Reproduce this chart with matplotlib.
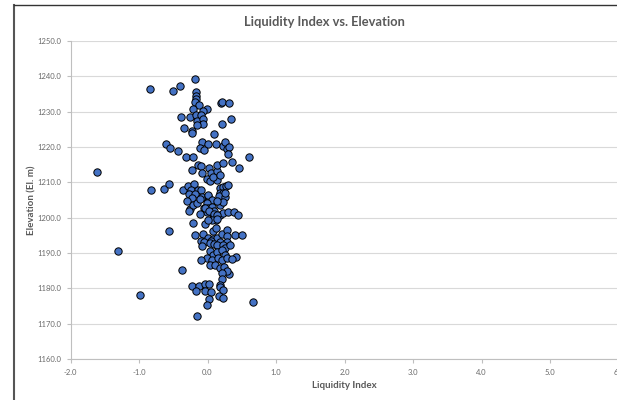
import matplotlib
matplotlib.use("Agg")
import matplotlib.pyplot as plt
from matplotlib.lines import Line2D

liquidity_index = [
    -0.18, -0.84, -0.50, -0.40, -0.17, -0.17, -0.17, -0.18, -0.13, 0.19, 0.21, 0.32, -0.21, -0.01, -0.07,
    -0.39, -0.25, -0.17, -0.10, -0.16, -0.06, -0.07, -0.16, -0.34, -0.22, -0.22, 0.21, 0.35, 0.09,
    -0.61, -0.55, -0.43, -0.32, -0.21, -0.08, 0.00, -0.11, -0.05, 0.12, 0.23, 0.25, 0.28, 0.31, 0.30, 0.60,
    -0.14, -0.10, -0.23, -0.08, 0.02, 0.05, 0.14, 0.14, 0.23, 0.36, 0.46, -1.62,
    -0.01, 0.04, 0.14, 0.08, 0.18,
    -0.83, -0.63, -0.56, -0.36, -0.29, -0.20, -0.24, -0.14, -0.09, -0.27, -0.18, 0.18, 0.22, 0.27, 0.30,
    0.18, 0.22, 0.17, 0.25, -0.23, -0.08, 0.00,
    -0.30, -0.26, -0.21, -0.16, -0.11, 0.01, 0.06, -0.01, -0.05, 0.01, 0.06, -0.01, 0.08, 0.11, 0.06,
    0.13, 0.18, 0.23, 0.30, 0.38, 0.45, 0.18, 0.23, 0.26, 0.14, 0.10,
    -0.27, -0.11, -0.04, 0.02, 0.10, 0.14,
    -0.21, -0.04, 0.06, 0.14, 0.00,
    -0.56, 0.08, -0.18, -0.06, 0.01, 0.08, 0.14, 0.21, 0.29, 0.29, 0.40, 0.50, 0.12,
    -0.10, -0.05, 0.05, 0.18, 0.28,
    -1.30,
    -0.08, 0.03, 0.10, 0.14, 0.22, 0.25, 0.33,
    0.04, 0.08, 0.14, 0.21, 0.25,
    -0.01, 0.06, 0.16, 0.21, 0.28, -0.09, 0.41, 0.36,
    0.04, 0.11, 0.18, 0.24, 0.31, 0.28, -0.37, 0.21, 0.21,
    -0.23, -0.13, -0.04, 0.02, 0.18,
    -0.99, -0.17, -0.04, 0.05, 0.18, 0.23,
    0.02, -0.01, 0.17, 0.22, 0.67, -0.16,
]
elevation = [
    1239.2, 1236.3, 1235.8, 1237.2, 1235.7, 1234.5, 1233.6, 1232.6, 1231.8, 1232.5, 1232.8, 1232.4, 1230.8, 1230.7, 1230.1,
    1228.6, 1228.5, 1229.0, 1229.1, 1227.5, 1227.9, 1226.6, 1226.2, 1225.5, 1224.6, 1224.0, 1226.5, 1228.0, 1223.6,
    1220.9, 1219.6, 1218.9, 1217.2, 1217.2, 1221.5, 1220.8, 1219.7, 1219.1, 1220.9, 1220.2, 1221.3, 1219.4, 1220.1, 1218.1, 1217.2,
    1214.8, 1214.6, 1213.4, 1212.6, 1214.0, 1212.6, 1213.1, 1214.8, 1215.5, 1215.7, 1214.1, 1213.0,
    1211.0, 1210.4, 1210.6, 1211.5, 1212.0,
    1207.9, 1208.0, 1209.5, 1207.8, 1208.9, 1209.4, 1207.9, 1207.9, 1207.9, 1206.8, 1206.8, 1208.5, 1208.7, 1209.0, 1209.2,
    1207.1, 1207.1, 1206.0, 1205.8, 1205.7, 1205.9, 1206.0,
    1204.7, 1202.4, 1203.6, 1204.1, 1205.2, 1206.4, 1205.0, 1204.1, 1202.6, 1202.6, 1203.1, 1201.7, 1201.4, 1200.5, 1199.6,
    1199.3, 1200.8, 1201.2, 1201.7, 1201.7, 1200.8, 1203.6, 1204.5, 1206.9, 1204.8, 1202.0,
    1202.0, 1200.9, 1202.7, 1201.8, 1201.0, 1200.8,
    1198.5, 1198.2, 1199.2, 1199.7, 1199.4,
    1196.1, 1196.1, 1195.2, 1195.4, 1194.2, 1194.0, 1194.2, 1195.4, 1196.5, 1194.9, 1195.2, 1195.2, 1197.0,
    1193.5, 1193.0, 1193.3, 1193.0, 1193.2,
    1190.6,
    1192.0, 1192.8, 1192.5, 1192.2, 1192.2, 1191.4, 1192.2,
    1190.5, 1189.5, 1190.3, 1190.8, 1189.5,
    1188.6, 1187.9, 1188.6, 1187.9, 1188.6, 1187.9, 1188.8, 1188.2,
    1186.5, 1186.7, 1185.7, 1186.0, 1184.1, 1184.8, 1185.3, 1184.4, 1182.6,
    1180.7, 1180.6, 1181.3, 1181.3, 1180.9,
    1178.0, 1179.2, 1179.2, 1179.0, 1180.5, 1179.5,
    1176.9, 1175.2, 1177.9, 1177.3, 1176.0, 1172.2,
]

x_ticks = [-2.0, -1.0, 0.0, 1.0, 2.0, 3.0, 4.0, 5.0, 6.0]
y_ticks = [1160.0, 1170.0, 1180.0, 1190.0, 1200.0, 1210.0, 1220.0, 1230.0, 1240.0, 1250.0]

W, H = 617, 400
fig = plt.figure(figsize=(W / 100, H / 100), dpi=100)
fig.patch.set_facecolor("white")

left, right, bottom, top = 70.5, 618.5, 359, 41
ax = fig.add_axes([left / W, 1 - bottom / H, (right - left) / W, (bottom - top) / H])

txt = "#595959"
ax.scatter(liquidity_index, elevation, s=28, facecolor="#4472C4",
           edgecolor="black", linewidth=0.7, zorder=3, clip_on=False)

ax.set_xlim(-2, 6)
ax.set_ylim(1160, 1250)
ax.set_xticks(x_ticks)
ax.set_yticks(y_ticks)
ax.set_xticklabels(["%.1f" % v for v in x_ticks])
ax.set_yticklabels(["%.1f" % v for v in y_ticks])

ax.grid(axis="y", color="#d9d9d9", linewidth=0.8, zorder=0)
ax.set_axisbelow(True)
for s in ["top", "right"]:
    ax.spines[s].set_visible(False)
for s in ["left", "bottom"]:
    ax.spines[s].set_color("#bfbfbf")
    ax.spines[s].set_linewidth(0.8)

ax.tick_params(axis="both", direction="out", length=3, width=0.8, color="#bfbfbf",
               labelcolor="#6a6a6a", labelsize=5.5, pad=4)
for lab in ax.get_xticklabels() + ax.get_yticklabels():
    lab.set_fontfamily("Lato")

ax.set_xlabel("Liquidity Index", fontsize=7, fontweight="bold", color=txt,
              fontfamily="Lato", labelpad=3.5)
ax.set_ylabel("Elevation (El. m)", fontsize=7, fontweight="bold", color=txt,
              fontfamily="Lato", labelpad=0)

fig.text(324 / W, 1 - 22 / H, "Liquidity Index vs. Elevation", ha="center", va="center",
         fontsize=9.3, fontweight="bold", color=txt, fontfamily="Lato")

# chart area border (cropped at right and bottom)
fig.add_artist(Line2D([14 / W, 14 / W], [0, 1 - 5 / H], transform=fig.transFigure,
                      color="#555555", linewidth=1.5))
fig.add_artist(Line2D([14 / W, 1], [1 - 5 / H, 1 - 5 / H], transform=fig.transFigure,
                      color="#333333", linewidth=1.0))

fig.savefig("out.png", dpi=100)
